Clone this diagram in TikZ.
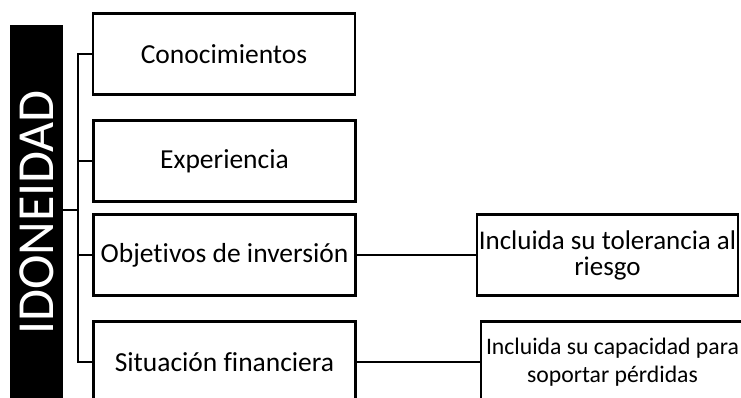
\documentclass[tikz,border=0pt]{standalone}
\usepackage{fontspec}
\setmainfont[Ligatures=NoCommon]{Carlito}
\usetikzlibrary{calc}

\begin{document}
\begin{tikzpicture}[
  x=1pt, y=-1pt,
  line join=miter,
  box/.style={draw, line width=2.6pt, minimum width=262pt, minimum height=81pt,
    inner sep=0pt, align=center, font=\fontsize{27.5}{26}\selectfont},
  link/.style={line width=2.2pt}
]
  \useasboundingbox (0,0) rectangle (741,397);

  % Title bar
  \node[fill=black, text=white, rotate=90, minimum width=375pt, minimum height=53pt,
    inner sep=0pt, font=\fontsize{52}{60}\selectfont] (bar) at (36.5,212.5) {IDONEIDAD};

  % Main boxes
  \node[box] (conoc) at (224,54)    {Conocimientos};
  \node[box] (exper) at (224.5,161) {Experiencia};
  \node[box] (objet) at (224.5,255) {Objetivos de inversión};
  \node[box] (situ)  at (224.5,362) {Situación financiera};

  % Detail boxes
  \node[box, minimum width=261pt, font=\fontsize{27}{26}\selectfont] (toler) at (607.5,255)
    {Incluida su tolerancia al\\riesgo};
  \node[box, minimum width=263pt, font=\fontsize{23.7}{28}\selectfont] (capac) at (612.5,362)
    {Incluida su capacidad para\\soportar pérdidas};

  % Bracket
  \coordinate (hub) at (78,210);
  \draw[link] (hub -| bar.south) -- (hub);
  \draw[link] (conoc.west) -| (hub) |- (situ.west);
  \draw[link] (exper.west) -- (exper.west -| hub);
  \draw[link] (objet.west) -- (objet.west -| hub);

  % Details
  \draw[link] (objet.east) -- (toler.west);
  \draw[link] (situ.east) -- (capac.west);
\end{tikzpicture}
\end{document}
